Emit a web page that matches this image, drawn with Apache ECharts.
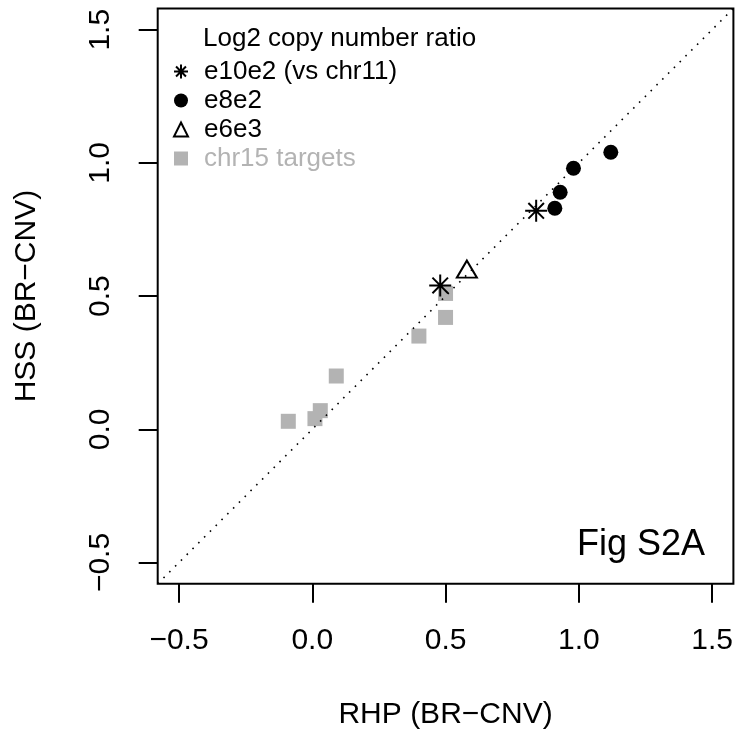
<!DOCTYPE html>
<html>
<head>
<meta charset="utf-8">
<script src="https://cdn.jsdelivr.net/npm/echarts@6/dist/echarts.min.js"></script>
<style>
html,body{margin:0;padding:0;background:#fff;}
#chart{width:739px;height:737px;}
</style>
</head>
<body>
<div id="chart"></div>
<script>
// ---- data ----
const seriesNames = ['e10e2 (vs chr11)', 'e8e2', 'e6e3', 'chr15 targets'];
const e10e2X = [0.48, 0.84];
const e10e2Y = [0.54, 0.82];
const e8e2X = [0.91, 0.93, 0.98, 1.12];
const e8e2Y = [0.83, 0.89, 0.98, 1.04];
const e6e3X = [0.58];
const e6e3Y = [0.59];
const chr15X = [-0.09, 0.01, 0.03, 0.09, 0.40, 0.50, 0.50];
const chr15Y = [0.03, 0.04, 0.07, 0.20, 0.35, 0.42, 0.51];
const tickValues = [-0.5, 0.0, 0.5, 1.0, 1.5];
const legendTitle = 'Log2 copy number ratio';
const xTitle = 'RHP (BR\u2212CNV)';
const yTitle = 'HSS (BR\u2212CNV)';
const figLabel = 'Fig S2A';

// ---- config ----
const AX_MIN = -0.58, AX_MAX = 1.58;
const FONT = "'Liberation Sans', Arial, Helvetica, sans-serif";
const GRAY = '#b3b3b3';
const ASTERISK = 'path://M0,-1L0,1M-1,0L1,0M-0.7071,-0.7071L0.7071,0.7071M-0.7071,0.7071L0.7071,-0.7071';

function zip(xs, ys) { return xs.map((x, i) => [x, ys[i]]); }
function fmt(v) { return (v < 0 ? '\u2212' : '') + Math.abs(v).toFixed(1); }

function axis(name) {
  return {
    type: 'value', min: AX_MIN, max: AX_MAX,
    name: name, nameLocation: 'middle', nameGap: 116,
    nameTextStyle: { fontFamily: FONT, fontSize: 30, color: '#000', lineHeight: 30 },
    axisLine: { show: false, onZero: false },
    splitLine: { show: false },
    axisTick: { show: true, customValues: tickValues, length: 19, inside: false,
                lineStyle: { color: '#000', width: 2 } },
    axisLabel: { show: true, customValues: tickValues, margin: 42, formatter: fmt,
                 fontFamily: FONT, fontSize: 30, color: '#000', lineHeight: 30 }
  };
}

const chart = echarts.init(document.getElementById('chart'), null, { renderer: 'canvas' });
const yAxis = axis(yTitle);
yAxis.axisLabel.rotate = 90;
yAxis.nameRotate = 90;

chart.setOption({
  animation: false,
  backgroundColor: '#fff',
  textStyle: { fontFamily: FONT },
  grid: { left: 157.7, right: 5.6, top: 8.4, bottom: 153.2, show: true,
          borderColor: '#000', borderWidth: 2, backgroundColor: 'transparent' },
  title: [
    { text: legendTitle, left: 203, top: 24, padding: 0,
      textStyle: { fontFamily: FONT, fontSize: 26, fontWeight: 'normal', color: '#000', lineHeight: 29 } },
    { text: figLabel, right: 34, top: 527, padding: 0,
      textStyle: { fontFamily: FONT, fontSize: 36, fontWeight: 'normal', color: '#000', lineHeight: 36 } }
  ],
  legend: {
    orient: 'vertical', left: 173, top: 57, padding: 0, itemGap: 0,
    itemWidth: 14, itemHeight: 14, selectedMode: false, symbolKeepAspect: true,
    textStyle: { fontFamily: FONT, fontSize: 26, color: '#000', lineHeight: 29, padding: [0, 0, 0, 11] },
    data: [
      { name: seriesNames[0] },
      { name: seriesNames[1] },
      { name: seriesNames[2] },
      { name: seriesNames[3], textStyle: { color: GRAY } }
    ]
  },
  xAxis: axis(xTitle),
  yAxis: yAxis,
  series: [
    { name: seriesNames[3], type: 'scatter', data: zip(chr15X, chr15Y), symbolKeepAspect: true,
      symbol: 'rect', symbolSize: 15, itemStyle: { color: GRAY, opacity: 1 }, z: 2 },
    { name: seriesNames[0], type: 'scatter', data: zip(e10e2X, e10e2Y), symbolKeepAspect: true,
      symbol: ASTERISK, symbolSize: 22,
      itemStyle: { color: '#000', borderColor: '#000', borderWidth: 2, opacity: 1 }, z: 3 },
    { name: seriesNames[1], type: 'scatter', data: zip(e8e2X, e8e2Y), symbolKeepAspect: true,
      symbol: 'circle', symbolSize: 15, itemStyle: { color: '#000', opacity: 1 }, z: 3 },
    { name: seriesNames[2], type: 'scatter', data: zip(e6e3X, e6e3Y), symbolKeepAspect: true,
      symbol: 'triangle', symbolSize: [20, 17], symbolOffset: [0, -3],
      itemStyle: { color: 'rgba(255,255,255,0)', borderColor: '#000', borderWidth: 2, opacity: 1 }, z: 3 },
    { name: 'identity', type: 'line', data: [[AX_MIN, AX_MIN], [AX_MAX, AX_MAX]],
      symbol: 'none', silent: true, z: 4, clip: true,
      lineStyle: { color: '#000', width: 1.6, type: [1.6, 6.6], cap: 'butt' } }
  ]
});
</script>
</body>
</html>
